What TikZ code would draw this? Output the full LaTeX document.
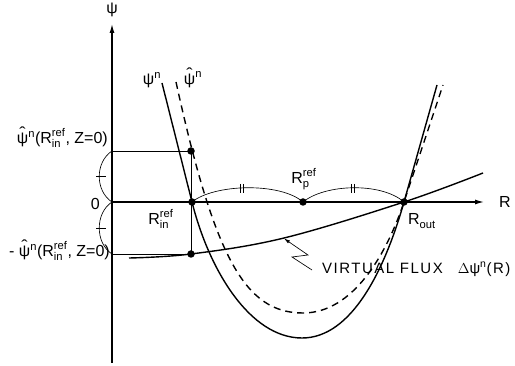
\documentclass[tikz,border=0pt]{standalone}
\usepackage{fontspec}
\usepackage{amsmath}
\usepackage{graphicx}
\setmainfont{Liberation Sans}
\usetikzlibrary{arrows.meta}
\newcommand\hatpsi{\hbox{\ooalign{ψ\cr\hidewidth\raisebox{0.30em}{\scalebox{1.2}[1]{ˆ}}\hidewidth\cr}}}
\newcommand\rsubsup[2]{\ensuremath{\text{R}^{\text{#1}}_{\text{#2}}}}
\begin{document}
\begin{tikzpicture}[x=1pt,y=-1pt,
  thick curve/.style={line width=1.4pt},
  axis/.style={line width=1.2pt},
  thin/.style={line width=0.65pt},
  dot/.style={circle,fill=black,inner sep=0pt,minimum size=7.5pt},
  lbl/.style={inner sep=0pt,font=\fontsize{16}{16}\selectfont},
  tip/.style={-{Latex[length=9pt,width=5pt]}}]
\useasboundingbox (0,0) rectangle (515,366);

% axes
\coordinate (Ybot) at (112,363);
\coordinate (Ytop) at (112,24);
\coordinate (O) at (112,202);
\coordinate (Xend) at (484,202);
\draw[axis,tip] (Ybot) -- (Ytop);
\draw[axis,tip] (O) -- (Xend);
\node[lbl] (psiax) at (112,10) {ψ};
\node[lbl] (Rax) at (505,202) {R};
\node[lbl,anchor=east] (zero) at (100,204) {0};

% points
\node[dot] (Pup) at (191,151) {};
\node[dot] (Rin) at (192,202) {};
\node[dot] (Plow) at (191,254) {};
\node[dot] (Rp) at (303,202) {};
\node[dot] (Rout) at (404,202) {};
\coordinate (Yup) at (112,151);
\coordinate (Ylow) at (112,254);

% thin construction lines
\draw[thin] (Yup) -- (Pup.center);
\draw[thin] (Ylow) -- (Plow.center);
\draw[thin] (Pup.center) -- (Plow.center);

% left brace arcs
\draw[thin] (Yup) .. controls (95,162) and (95,191) .. (O);
\draw[thin] (96,176.5) -- (106,176.5);
\draw[thin] (O) .. controls (95,213) and (95,243) .. (Ylow);
\draw[thin] (96,228.5) -- (106,228.5);

% equal-distance arcs
\draw[thin] (Rin.center) .. controls (214,184) and (280,182) .. (Rp.center);
\draw[thin] (240,184) -- (240,193) (243.5,184) -- (243.5,193);
\draw[thin] (Rp.center) .. controls (325,184) and (381,182) .. (Rout.center);
\draw[thin] (351,184) -- (351,193) (354.5,184) -- (354.5,193);

% psi^n solid
\draw[thick curve] (162,83) -- (Rin.center)
  .. controls (209,270) and (250,338) .. (302,338)
  .. controls (352,338) and (385,269) .. (Rout.center) -- (437,85);
% hat psi^n dashed
\draw[thick curve,dash pattern=on 7pt off 5pt] (176,82)
  .. controls (214.7,258) and (245,313) .. (303,313)
  .. controls (353,313) and (386.6,254.2) .. (Rout.center) -- (443,85);

% virtual flux curve
\draw[thick curve] plot[smooth,tension=0.6] coordinates {(129,258) (191,254) (284,238) (404,202) (483,173)};
\coordinate (vfp) at (284,238.5);
\coordinate (zz) at (312,270);
\draw[thin,-{Latex[length=6pt,width=3.5pt]}] (zz) -- (292,257) -- (308,255) -- (vfp);

% labels
\node[lbl] (lpsin) at (152,80) {$\text{ψ}^{\text{n}}$};
\node[lbl] (lhpsin) at (193,78) {$\text{\hatpsi}^{\text{n}}$};
\node[lbl,anchor=east] (lup) at (108,138) {$\text{\hatpsi}^{\text{n}}\text{(}\rsubsup{ref}{in}\text{, Z=0)}$};
\node[lbl,anchor=east] (llow) at (110,251) {$\text{- \hatpsi}^{\text{n}}\text{(}\rsubsup{ref}{in}\text{, Z=0)}$};
\node[lbl] (lRin) at (161,219) {\rsubsup{ref}{in}};
\node[lbl] (lRp) at (304,179) {\rsubsup{ref}{p}};
\node[lbl] (lRout) at (422,221) {\rsubsup{}{out}};
\node[lbl,anchor=west,font=\fontsize{15}{15}\selectfont\addfontfeatures{LetterSpace=10}] (lvf) at (322,269) {VIRTUAL FLUX\quad $\Delta\text{ψ}^{\text{n}}\text{(R)}$};
\end{tikzpicture}
\end{document}
